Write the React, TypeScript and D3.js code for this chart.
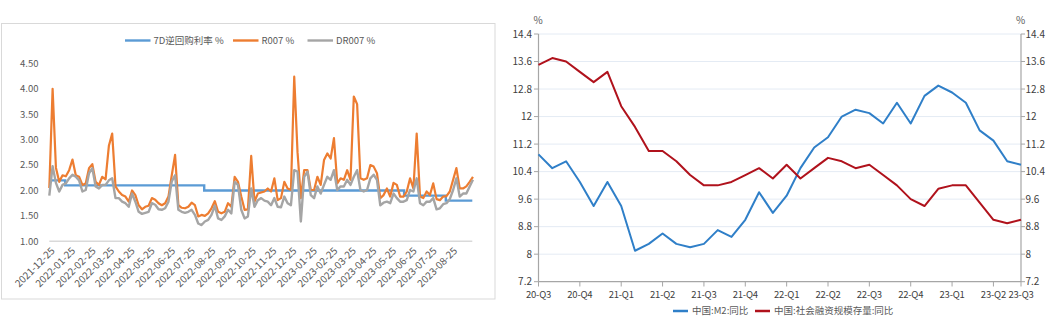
import React from "react";
import * as d3 from "d3";

const W = 1054;
const H = 323;
const FONT = '"Noto Sans CJK SC", "Noto Sans", sans-serif';

// ---------- Left chart data ----------
const repoStart = "2021-12-24";
const repoStepDays = 5;
const r007 = [
  2.05, 4.0, 2.45, 2.17, 2.3, 2.28, 2.4, 2.61, 2.3, 2.27,
  2.11, 2.14, 2.44, 2.52, 2.17, 2.11, 2.27, 2.22, 2.88, 3.12,
  2.08, 1.98, 1.91, 1.88, 1.78, 2.0, 1.91, 1.71, 1.63, 1.68,
  1.7, 1.85, 1.82, 1.75, 1.71, 1.75, 1.88, 2.3, 2.7, 1.71,
  1.66, 1.65, 1.68, 1.76, 1.71, 1.49, 1.52, 1.5, 1.55, 1.65,
  1.79, 1.58, 1.55, 1.58, 1.75, 1.68, 2.27, 2.17, 1.88, 1.62,
  1.63, 2.68, 1.78, 1.94, 1.96, 1.98, 2.04, 1.98, 2.24, 1.81,
  1.85, 2.17, 2.04, 2.01, 4.24, 2.75, 1.85, 2.4, 2.4, 2.01,
  2.01, 2.27, 2.11, 2.6, 2.73, 2.63, 3.03, 2.14, 2.24, 2.21,
  2.4, 2.21, 3.85, 3.7, 2.24, 2.21, 2.24, 2.5, 2.47, 2.34,
  1.85, 1.91, 2.04, 1.88, 2.15, 2.11, 1.88, 1.88, 1.98, 2.24,
  2.04, 3.12, 1.88, 1.85, 1.98, 1.91, 2.14, 1.83, 1.81, 1.88,
  1.89, 1.98, 2.21, 2.44, 2.04, 2.04, 2.08, 2.17, 2.27,
];
const dr007 = [
  1.9, 2.48, 2.15, 1.98, 2.11, 2.14, 2.24, 2.31, 2.27, 2.2,
  1.98, 2.01, 2.34, 2.44, 2.08, 2.04, 2.11, 2.11, 2.2, 2.24,
  1.85, 1.85, 1.78, 1.75, 1.68, 1.94, 1.78, 1.58, 1.54, 1.56,
  1.58, 1.75, 1.72, 1.63, 1.62, 1.65, 1.78, 2.18, 2.3, 1.62,
  1.58, 1.56, 1.58, 1.62, 1.52, 1.35, 1.32, 1.39, 1.42, 1.52,
  1.7, 1.45, 1.42, 1.49, 1.62, 1.55, 2.17, 2.11, 1.62, 1.45,
  1.49, 2.04, 1.68, 1.81, 1.85, 1.8, 1.78, 1.71, 1.85, 1.68,
  1.67, 1.88, 1.75, 1.71, 2.4, 2.37, 1.39, 2.27, 2.37, 1.91,
  1.85, 2.08, 1.94, 2.11, 2.27, 2.21, 2.4, 2.01, 2.08, 2.08,
  2.21, 2.11, 2.27, 2.4, 2.01, 1.98, 2.01, 2.24, 2.31, 2.21,
  1.71, 1.76, 1.78, 1.75, 1.94, 1.85, 1.78, 1.78, 1.81, 2.01,
  1.98, 2.24, 1.75, 1.71, 1.78, 1.78, 1.85, 1.63, 1.65, 1.73,
  1.75, 1.83, 2.01, 2.24, 1.88, 1.94, 1.94, 2.08, 2.21,
];
const policyDates = ["2021-12-24", "2022-01-17", "2022-08-15", "2023-06-13", "2023-08-15", "2023-09-24"];
const policyRates = [2.2, 2.1, 2.0, 1.9, 1.8, 1.8];
const leftXLabels = [
  "2021-12-25", "2022-01-25", "2022-02-25", "2022-03-25", "2022-04-25", "2022-05-25",
  "2022-06-25", "2022-07-25", "2022-08-25", "2022-09-25", "2022-10-25", "2022-11-25",
  "2022-12-25", "2023-01-25", "2023-02-25", "2023-03-25", "2023-04-25", "2023-05-25",
  "2023-06-25", "2023-07-25", "2023-08-25",
];
const leftYTicks = [1.0, 1.5, 2.0, 2.5, 3.0, 3.5, 4.0, 4.5];
const leftSeriesNames = ["7D逆回购利率 %", "R007 %", "DR007 %"];
const leftColors = ["#5B9BD5", "#ED7D31", "#A5A5A5"];

// ---------- Right chart data ----------
const months = [
  "2020-09", "2020-10", "2020-11", "2020-12",
  "2021-01", "2021-02", "2021-03", "2021-04", "2021-05", "2021-06",
  "2021-07", "2021-08", "2021-09", "2021-10", "2021-11", "2021-12",
  "2022-01", "2022-02", "2022-03", "2022-04", "2022-05", "2022-06",
  "2022-07", "2022-08", "2022-09", "2022-10", "2022-11", "2022-12",
  "2023-01", "2023-02", "2023-03", "2023-04", "2023-05", "2023-06",
  "2023-07", "2023-08",
];
const m2Yoy = [
  10.9, 10.5, 10.7, 10.1,
  9.4, 10.1, 9.4, 8.1, 8.3, 8.6, 8.3, 8.2, 8.3, 8.7, 8.5, 9.0,
  9.8, 9.2, 9.7, 10.5, 11.1, 11.4, 12.0, 12.2, 12.1, 11.8, 12.4, 11.8,
  12.6, 12.9, 12.7, 12.4, 11.6, 11.3, 10.7, 10.6,
];
const tsfYoy = [
  13.5, 13.7, 13.6, 13.3,
  13.0, 13.3, 12.3, 11.7, 11.0, 11.0, 10.7, 10.3, 10.0, 10.0, 10.1, 10.3,
  10.5, 10.2, 10.6, 10.2, 10.5, 10.8, 10.7, 10.5, 10.6, 10.3, 10.0, 9.6,
  9.4, 9.9, 10.0, 10.0, 9.5, 9.0, 8.9, 9.0,
];
const quarterLabels = ["20-Q3", "20-Q4", "21-Q1", "21-Q2", "21-Q3", "21-Q4", "22-Q1", "22-Q2", "22-Q3", "22-Q4", "23-Q1", "23-Q2", "23-Q3"];
const quarterMonths = ["2020-09", "2020-12", "2021-03", "2021-06", "2021-09", "2021-12", "2022-03", "2022-06", "2022-09", "2022-12", "2023-03", "2023-06", "2023-08"];
const rightYTicks = [7.2, 8, 8.8, 9.6, 10.4, 11.2, 12, 12.8, 13.6, 14.4];
const rightSeriesNames = ["中国:M2:同比", "中国:社会融资规模存量:同比"];
const rightColors = ["#2F7FC8", "#B0121C"];

const parse = d3.timeParse("%Y-%m-%d")!;

function LeftChart() {
  const x = d3.scaleTime().domain([parse("2021-12-24")!, parse("2023-09-24")!]).range([49.3, 472.3]);
  const y = d3.scaleLinear().domain([1, 4.5]).range([241.3, 63.5]);
  const start = parse(repoStart)!;
  const dates = r007.map((_, i) => d3.timeDay.offset(start, i * repoStepDays));
  const line = d3.line<[Date, number]>().x((d) => x(d[0])).y((d) => y(d[1]));
  const stepLine = d3.line<[Date, number]>().x((d) => x(d[0])).y((d) => y(d[1])).curve(d3.curveStepAfter);
  const rPath = line(dates.map((d, i) => [d, r007[i]]))!;
  const drPath = line(dates.map((d, i) => [d, dr007[i]]))!;
  const pPath = stepLine(policyDates.map((d, i) => [parse(d)!, policyRates[i]]))!;
  const legendX = [125, 233, 307.5];
  const textColor = "#595959";
  return (
    <g>
      <rect x={1.5} y={23.5} width={493.5} height={275.5} fill="#fff" stroke="#D9D9D9" strokeWidth={1} />
      {leftYTicks.map((t) => (
        <text key={t} x={38.5} y={y(t)} dy="0.35em" textAnchor="end" fontSize={9.5} fill={textColor} fontFamily={FONT}>
          {d3.format(".2f")(t)}
        </text>
      ))}
      <line x1={49.3} x2={472.3} y1={241.3} y2={241.3} stroke="#D9D9D9" strokeWidth={1.5} />
      {leftXLabels.map((l) => {
        const tx = x(parse(l)!);
        return (
          <text key={l} transform={`translate(${tx + 3},${249}) rotate(-45)`} dy="0.35em" textAnchor="end" fontSize={10} fill={textColor} fontFamily={FONT}>
            {l}
          </text>
        );
      })}
      <path d={pPath} fill="none" stroke={leftColors[0]} strokeWidth={2.4} />
      <path d={rPath} fill="none" stroke={leftColors[1]} strokeWidth={2.2} strokeLinejoin="round" />
      <path d={drPath} fill="none" stroke={leftColors[2]} strokeWidth={2.4} strokeLinejoin="round" />
      {leftSeriesNames.map((n, i) => (
        <g key={n}>
          <line x1={legendX[i]} x2={legendX[i] + 25.5} y1={40.5} y2={40.5} stroke={leftColors[i]} strokeWidth={2.4} />
          <text x={legendX[i] + 28.5} y={40.5} dy="0.35em" fontSize={9.5} fill={textColor} fontFamily={FONT}>
            {n}
          </text>
        </g>
      ))}
    </g>
  );
}

function RightChart() {
  const x = d3.scaleLinear().domain([0, months.length - 1]).range([538.5, 1021]);
  const y = d3.scaleLinear().domain([7.2, 14.4]).range([281.7, 34]);
  const line = d3.line<number>().x((_, i) => x(i)).y((d) => y(d));
  const textColor = "#404040";
  const fmt = (v: number) => String(+v.toFixed(1));
  return (
    <g>
      {rightYTicks.map((t) =>
        t === 7.2 ? null : (
          <line key={"g" + t} x1={538.5} x2={1021} y1={y(t)} y2={y(t)} stroke="#E4EBF4" strokeWidth={1} />
        )
      )}
      <line x1={538.5} x2={538.5} y1={34} y2={281.7} stroke="#A6A6A6" strokeWidth={1.2} />
      <line x1={1021} x2={1021} y1={34} y2={281.7} stroke="#A6A6A6" strokeWidth={1.2} />
      <line x1={538.5} x2={1021} y1={281.7} y2={281.7} stroke="#A6A6A6" strokeWidth={1.2} />
      {rightYTicks.map((t) => (
        <g key={"t" + t}>
          <line x1={534} x2={538.5} y1={y(t)} y2={y(t)} stroke="#A6A6A6" strokeWidth={1} />
          <text x={532} y={y(t)} dy="0.35em" textAnchor="end" fontSize={10} fill={textColor} fontFamily={FONT}>
            {fmt(t)}
          </text>
          <line x1={1021} x2={1025} y1={y(t)} y2={y(t)} stroke="#A6A6A6" strokeWidth={1} />
          <text x={1025.5} y={y(t)} dy="0.35em" textAnchor="start" fontSize={10} fill={textColor} fontFamily={FONT}>
            {fmt(t)}
          </text>
        </g>
      ))}
      {quarterLabels.map((q, i) => {
        const tx = x(months.indexOf(quarterMonths[i]));
        return (
          <g key={q}>
            <line x1={tx} x2={tx} y1={281.7} y2={286.5} stroke="#A6A6A6" strokeWidth={1} />
            <text x={tx} y={295} dy="0.35em" textAnchor="middle" fontSize={9.5} letterSpacing={-0.2} fill={textColor} fontFamily={FONT}>
              {q}
            </text>
          </g>
        );
      })}
      <text x={538} y={20} dy="0.35em" textAnchor="middle" fontSize={10} fill="#595959" fontFamily={FONT}>%</text>
      <text x={1020.5} y={20} dy="0.35em" textAnchor="middle" fontSize={10} fill="#595959" fontFamily={FONT}>%</text>
      <path d={line(m2Yoy)!} fill="none" stroke={rightColors[0]} strokeWidth={2} strokeLinejoin="round" />
      <path d={line(tsfYoy)!} fill="none" stroke={rightColors[1]} strokeWidth={2} strokeLinejoin="round" />
      {rightSeriesNames.map((n, i) => {
        const lx = [673, 755][i];
        return (
          <g key={n}>
            <line x1={lx} x2={lx + 15} y1={311} y2={311} stroke={rightColors[i]} strokeWidth={2.5} />
            <text x={lx + 19} y={311} dy="0.35em" fontSize={9.5} fill="#595959" fontFamily={FONT}>
              {n}
            </text>
          </g>
        );
      })}
    </g>
  );
}

export default function App() {
  return (
    <svg width={W} height={H} style={{ position: "absolute", left: 0, top: 0, background: "#fff" }}>
      <rect x={0} y={0} width={W} height={H} fill="#fff" />
      <LeftChart />
      <RightChart />
    </svg>
  );
}
